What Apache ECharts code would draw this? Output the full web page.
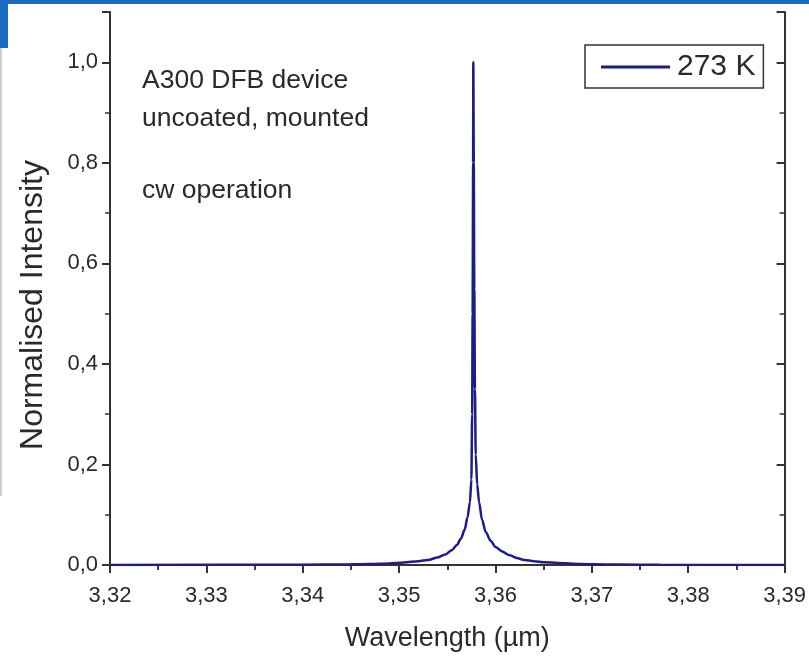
<!DOCTYPE html>
<html>
<head>
<meta charset="utf-8">
<script src="https://cdn.jsdelivr.net/npm/echarts@6/dist/echarts.min.js"></script>
<style>html,body{margin:0;padding:0;background:#fff}#c{width:809px;height:659px}</style>
</head>
<body>
<div id="c"></div>
<script>
// Wavelength (µm) and normalised intensity
const wavelengths = [3.320, 3.340, 3.344, 3.347, 3.349, 3.3505, 3.352, 3.353, 3.354, 3.3548, 3.3555, 3.356, 3.3564, 3.3568, 3.3571, 3.35735, 3.3575, 3.35758, 3.35763, 3.35768, 3.3577, 3.35775, 3.3578, 3.35787, 3.35795, 3.3581, 3.3583, 3.3586, 3.359, 3.3595, 3.360, 3.3607, 3.3614, 3.3622, 3.363, 3.364, 3.365, 3.3665, 3.368, 3.370, 3.373, 3.377, 3.390];
const intensity   = [0.000, 0.0005, 0.001, 0.002, 0.003, 0.005, 0.0075, 0.010, 0.015, 0.021, 0.030, 0.040, 0.052, 0.070, 0.095, 0.125, 0.17, 0.30, 0.50, 0.80, 1.00, 0.80, 0.55, 0.35, 0.22, 0.16, 0.125, 0.090, 0.065, 0.048, 0.036, 0.027, 0.020, 0.014, 0.010, 0.0075, 0.0055, 0.004, 0.0025, 0.0015, 0.0008, 0.0003, 0.000];
const seriesName = '273 K';
const annotations = ['A300 DFB device', 'uncoated, mounted', 'cw operation'];
const xTitle = 'Wavelength (µm)';
const yTitle = 'Normalised Intensity';

const pts = wavelengths.map((w, i) => [w, intensity[i]]);
const fmt = (d) => (v) => v.toFixed(d).replace('.', ',');
const axisCol = '#333';
const txtCol = '#2a2a2a';
const font = 'Liberation Sans, Arial, sans-serif';

const chart = echarts.init(document.getElementById('c'));
chart.setOption({
  animation: false,
  backgroundColor: '#fff',
  grid: { left: 110, right: 23, top: 12, bottom: 94 },
  legend: {
    data: [{ name: seriesName, icon: 'rect' }], left: 585, top: 45, orient: 'horizontal',
    borderColor: '#333', borderWidth: 1.5, padding: [7, 8, 6, 16],
    itemWidth: 69, itemHeight: 3, itemGap: 8,
    textStyle: { fontSize: 30, color: txtCol, fontFamily: font, padding: [0, 0, 0, 2] }
  },
  xAxis: [{
    type: 'value', min: 3.32, max: 3.39, interval: 0.01, position: 'bottom',
    name: xTitle, nameLocation: 'middle', nameGap: 60,
    nameTextStyle: { fontSize: 27, color: txtCol, fontFamily: font },
    axisLine: { lineStyle: { color: axisCol, width: 2 } },
    axisTick: { inside: false, length: 8, lineStyle: { color: axisCol, width: 2 } },
    minorTick: { show: true, splitNumber: 2, length: 5, lineStyle: { color: axisCol, width: 1.5 } },
    axisLabel: { formatter: fmt(2), fontSize: 22, color: txtCol, margin: 20, fontFamily: font },
    splitLine: { show: false }
  }, {
    type: 'value', min: 3.32, max: 3.39, interval: 0.01, position: 'top',
    axisLine: { show: true, lineStyle: { color: axisCol, width: 2 } },
    axisTick: { inside: true, length: 8, lineStyle: { color: axisCol, width: 2 } },
    minorTick: { show: true, splitNumber: 2, length: 5, lineStyle: { color: axisCol, width: 1.5 } },
    axisLabel: { show: false }, splitLine: { show: false }
  }],
  yAxis: [{
    type: 'value', min: 0, max: 1.1, interval: 0.2, position: 'left',
    axisLine: { show: true, lineStyle: { color: axisCol, width: 2 } },
    axisTick: { inside: false, length: 8, lineStyle: { color: axisCol, width: 2 } },
    minorTick: { show: true, splitNumber: 2, length: 5, lineStyle: { color: axisCol, width: 1.5 } },
    axisLabel: { formatter: fmt(1), fontSize: 22, color: txtCol, margin: 12, showMaxLabel: false, fontFamily: font },
    splitLine: { show: false }
  }, {
    type: 'value', min: 0, max: 1.1, interval: 0.2, position: 'right',
    axisLine: { show: true, lineStyle: { color: axisCol, width: 2 } },
    axisTick: { inside: true, length: 8, lineStyle: { color: axisCol, width: 2 } },
    minorTick: { show: true, splitNumber: 2, length: 5, lineStyle: { color: axisCol, width: 1.5 } },
    axisLabel: { show: false }, splitLine: { show: false }
  }],
  series: [{
    name: seriesName, type: 'line', data: pts, showSymbol: false, symbol: 'none',
    xAxisIndex: 0, yAxisIndex: 0, smooth: 0.3, smoothMonotone: 'x',
    lineStyle: { color: '#1c1c8a', width: 2.5 }, itemStyle: { color: '#1c1c8a' }
  }],
  graphic: [
    { type: 'rect', left: 0, top: 0, shape: { width: 809, height: 4 }, style: { fill: '#1a6bbf' }, z: 100 },
    { type: 'rect', left: 0, top: 0, shape: { width: 8, height: 48 }, style: { fill: '#1a6bbf' }, z: 100 },
    { type: 'rect', left: 0, top: 48, shape: { width: 2, height: 448 }, style: { fill: '#cfcfcf' }, z: 100 },
    { type: 'text', x: 33, y: 305, rotation: Math.PI / 2, style: { text: yTitle, fill: txtCol, font: '32px ' + font, align: 'center', verticalAlign: 'middle' } },
    { type: 'text', left: 142, top: 67, style: { text: annotations[0], fill: txtCol, font: '26.5px ' + font } },
    { type: 'text', left: 142, top: 105, style: { text: annotations[1], fill: txtCol, font: '26.5px ' + font } },
    { type: 'text', left: 142, top: 177, style: { text: annotations[2], fill: txtCol, font: '26.5px ' + font } }
  ]
});
</script>
</body>
</html>
